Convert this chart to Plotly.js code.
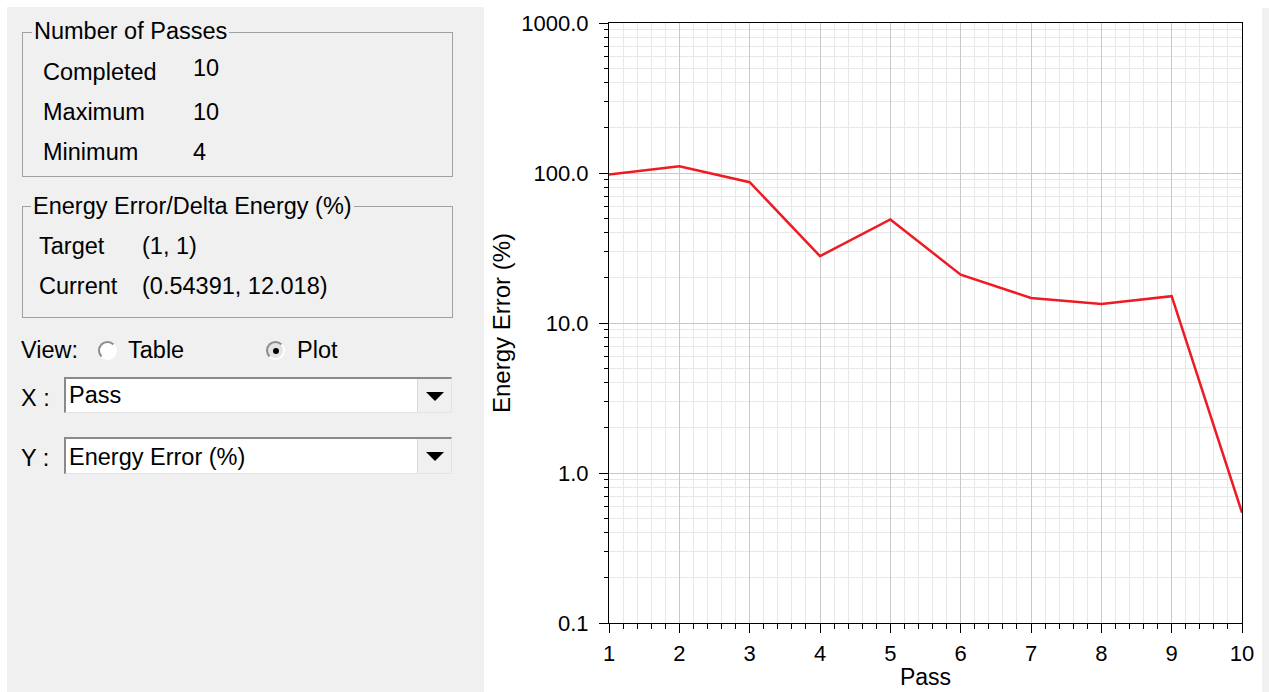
<!DOCTYPE html>
<html>
<head>
<meta charset="utf-8">
<script src="https://cdn.plot.ly/plotly-3.0.1.min.js"></script>
<style>
  html, body { margin:0; padding:0; width:1269px; height:692px; background:#ffffff; overflow:hidden; }
  body { position:relative; font-family:"Liberation Sans", Arial, sans-serif; color:#000; }
  #panel { position:absolute; left:7px; top:7px; width:477px; height:685px; background:#f0f0f0; }
  #rstrip { position:absolute; left:1262px; top:8px; width:7px; height:684px; background:#f0f0f0; }
  #plot { position:absolute; left:484px; top:0px; width:778px; height:692px; }
  .t { position:absolute; font-size:23.5px; line-height:23.5px; white-space:nowrap; }
  .box { position:absolute; border:1px solid #a0a0a0; }
  .legend { position:absolute; background:#f0f0f0; padding:0 2px; font-size:23.5px; line-height:23.5px; white-space:nowrap; }
  .radio { position:absolute; width:19px; height:19px; border-radius:50%; box-sizing:border-box; border:2px solid; border-color:#8c8c8c #ffffff #ffffff #8c8c8c; }
  .dd { position:absolute; background:#fff; box-sizing:border-box; border-top:2px solid #8a8a8a; border-left:2px solid #8a8a8a; border-right:1px solid #e3e3e3; border-bottom:1px solid #e3e3e3; }
  .ddbtn { position:absolute; top:0; right:0; width:33px; bottom:0; background:#f0f0f0; border-left:1px solid #d8d8d8; }
  .tri { position:absolute; left:8px; top:13px; width:0; height:0; border-left:9px solid transparent; border-right:9px solid transparent; border-top:9px solid #000; }
</style>
</head>
<body>
<div id="panel"></div>
<div id="rstrip"></div>
<div id="plot"></div>
<div id="ui"></div>
<script>
// ---- data ----
const passes = [1, 2, 3, 4, 5, 6, 7, 8, 9, 10];
const energyError = [97.7, 111, 86.8, 27.9, 49.0, 21.0, 14.7, 13.4, 15.1, 0.54391];
const xTitle = "Pass";
const yTitle = "Energy Error (%)";
const passLabels = ["Completed", "Maximum", "Minimum"];
const passValues = ["10", "10", "4"];
const errorLabels = ["Target", "Current"];
const errorValues = ["(1, 1)", "(0.54391, 12.018)"];

// ---- left panel UI ----
const ui = document.getElementById('ui');
function add(html){ ui.insertAdjacentHTML('beforeend', html); }
// group box 1
add('<div class="box" style="left:22px;top:32px;width:429px;height:143px"></div>');
add('<div class="legend" style="left:32px;top:20px">Number of Passes</div>');
const labTops = [60.5, 100.5, 140.5];
const valTops = [56.5, 100.5, 140.5];
passLabels.forEach((l,i)=>{
  add(`<div class="t" style="left:43px;top:${labTops[i]}px">${l}</div>`);
  add(`<div class="t" style="left:193px;top:${valTops[i]}px">${passValues[i]}</div>`);
});
// group box 2
add('<div class="box" style="left:22px;top:206px;width:429px;height:110px"></div>');
add('<div class="legend" style="left:31px;top:194.5px">Energy Error/Delta Energy (%)</div>');
errorLabels.forEach((l,i)=>{
  add(`<div class="t" style="left:39px;top:${234.5+i*40}px">${l}</div>`);
  add(`<div class="t" style="left:142px;top:${234.5+i*40}px">${errorValues[i]}</div>`);
});
// view radios
add('<div class="t" style="left:21px;top:338.5px">View:</div>');
add('<div class="radio" style="left:98px;top:341px;background:#fff"></div>');
add('<div class="t" style="left:128px;top:338.5px">Table</div>');
add('<div class="radio" style="left:266px;top:341px;background:#e4e4e4"><div style="position:absolute;left:4.5px;top:4.5px;width:6px;height:6px;border-radius:50%;background:#000"></div></div>');
add('<div class="t" style="left:297px;top:338.5px">Plot</div>');
// dropdowns
add('<div class="t" style="left:21px;top:386.5px">X :</div>');
add('<div class="dd" style="left:64px;top:377px;width:388px;height:36px"><div class="t" style="left:3px;top:4.5px">Pass</div><div class="ddbtn"><div class="tri"></div></div></div>');
add('<div class="t" style="left:21px;top:447px">Y :</div>');
add('<div class="dd" style="left:64px;top:437px;width:388px;height:37px"><div class="t" style="left:3px;top:6.5px">Energy Error (%)</div><div class="ddbtn"><div class="tri"></div></div></div>');

// ---- plot ----
const ff = '"Liberation Sans", Arial, sans-serif';
const tickFont = {family: ff, size: 22, color: '#000'};
const trace = {
  x: passes, y: energyError, type: 'scatter', mode: 'lines',
  line: {color: 'rgb(237,28,36)', width: 2.5}, hoverinfo: 'skip'
};
const layout = {
  width: 778, height: 692,
  margin: {l: 125, r: 20, t: 23, b: 69, pad: 0},
  paper_bgcolor: '#ffffff', plot_bgcolor: '#ffffff',
  font: tickFont, showlegend: false,
  xaxis: {
    range: [1, 10], dtick: 1, tick0: 1,
    ticks: 'outside', ticklen: 9, tickcolor: '#000', tickwidth: 1,
    showline: true, linecolor: '#000', linewidth: 1, mirror: true,
    showgrid: true, gridcolor: '#c8c8c8', gridwidth: 1, zeroline: false,
    minor: {dtick: 0.2, ticks: 'outside', ticklen: 5, tickcolor: '#000', showgrid: true, gridcolor: '#e8e8e8', gridwidth: 1},
    tickfont: tickFont, ticklabelstandoff: 2,
    title: {text: xTitle, font: {family: ff, size: 23, color: '#000'}, standoff: 3}
  },
  yaxis: {
    type: 'log', range: [-1, 3], dtick: 1, tickformat: '.1f',
    ticks: 'outside', ticklen: 9, tickcolor: '#000', tickwidth: 1,
    showline: true, linecolor: '#000', linewidth: 1, mirror: true,
    showgrid: true, gridcolor: '#c8c8c8', gridwidth: 1, zeroline: false,
    minor: {dtick: 'D1', ticks: 'outside', ticklen: 4, tickcolor: '#000', showgrid: true, gridcolor: '#e8e8e8', gridwidth: 1},
    tickfont: tickFont, ticklabelstandoff: 6,
    title: {text: yTitle, font: {family: ff, size: 24, color: '#000'}, standoff: 3}
  }
};
Plotly.newPlot('plot', [trace], layout, {displayModeBar: false, staticPlot: true});
</script>
</body>
</html>
